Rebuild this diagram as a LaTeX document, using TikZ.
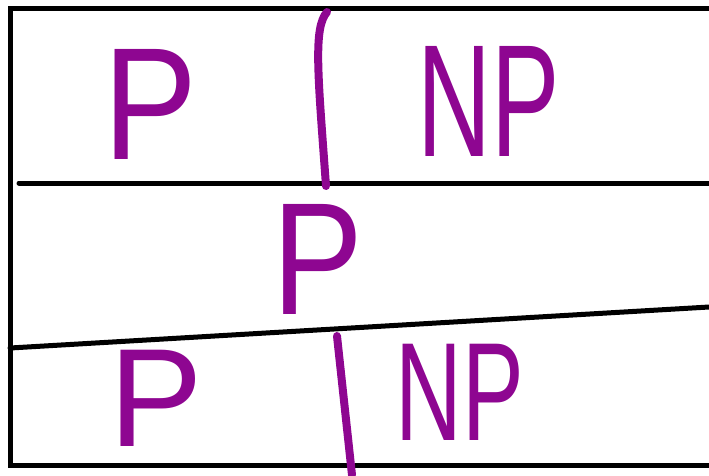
\documentclass[tikz,border=0pt]{standalone}
\usepackage{fontspec}
\setmainfont{Liberation Sans}
\usepackage{xcolor}
\definecolor{inkpurple}{HTML}{8E0691}
\definecolor{inkblack}{HTML}{000000}

\begin{document}
\begin{tikzpicture}[
      x=1pt, y=-1pt,
      rule/.style={draw=inkblack, line width=5pt, line cap=round},
      divider/.style={draw=inkpurple, line width=8pt, line cap=round},
      hand/.style={text=inkpurple, inner sep=0pt, font=\fontsize{160}{160}\selectfont},
      handsmall/.style={hand, font=\fontsize{140}{140}\selectfont},
    ]
    \useasboundingbox (0,0) rectangle (709,475);

    % table rules
    \draw[rule] (709,8) -- (10,8) -- (10,465) -- (709,465);
    \draw[rule] (19,183) -- (709,183);
    \draw[rule] (10,348) -- (709,307);

    % class labels
    \node[hand] (ptop) at (150,104) {\scalebox{0.88}[1]{P}};
    \node[hand] (nptop) at (489,101) {\scalebox{0.64}[1]{NP}};
    \node[hand] (pmid) at (318,259) {\scalebox{0.85}[1]{P}};
    \node[handsmall] (pbot) at (156,398) {\scalebox{1.0}[1]{P}};
    \node[handsmall] (npbot) at (460,392) {\scalebox{0.66}[1]{NP}};

    % separators
    \draw[divider] (327,12) .. controls (313,28) and (318,75) .. (326,186);
    \draw[divider] (337,336) -- (352,475);
  \end{tikzpicture}
\end{document}
